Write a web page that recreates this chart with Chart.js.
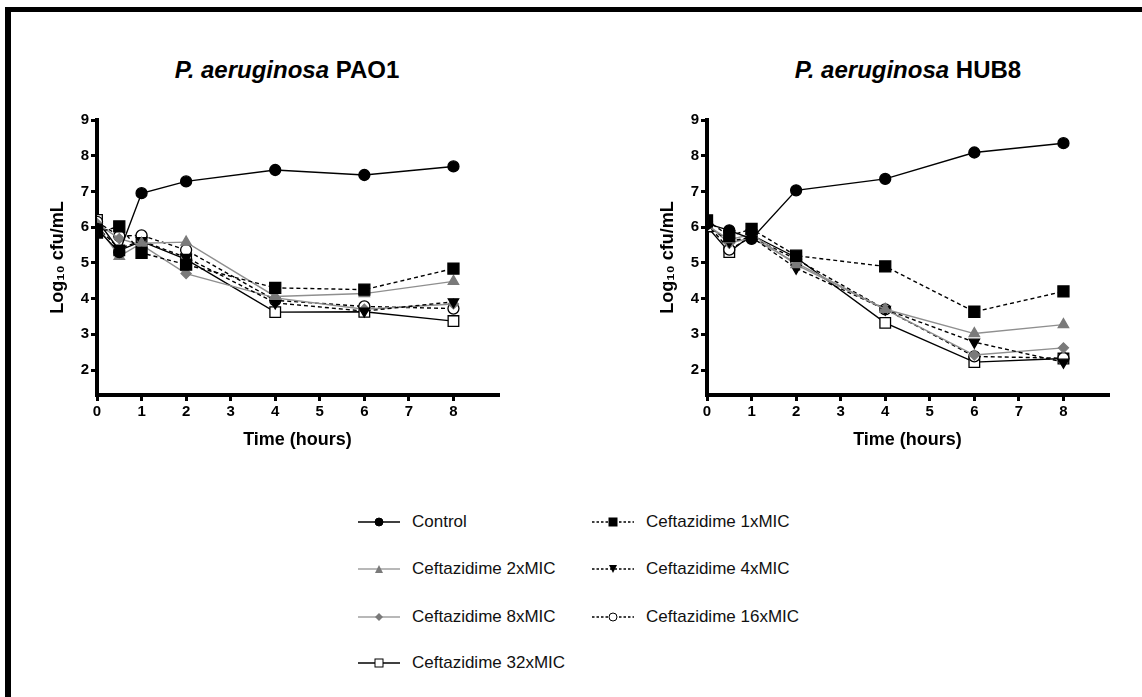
<!DOCTYPE html>
<html>
<head>
<meta charset="utf-8">
<script src="https://cdn.jsdelivr.net/npm/chart.js@4.4.1/dist/chart.umd.min.js"></script>
<style>
  body { margin: 0; background: #fff; font-family: 'Liberation Sans', Arial, sans-serif; }
  #page { position: relative; width: 1142px; height: 697px; overflow: hidden; background: #fff; }
  #frame { position: absolute; left: 5px; top: 7px; width: 1200px; height: 800px;
           border-top: 5px solid #000; border-left: 6px solid #000; }
  .title { position: absolute; top: 56px; font-weight: bold; font-size: 24px; line-height: 28px;
           white-space: nowrap; transform: translateX(-50%); color: #000; }
  .box { position: absolute; width: 500px; height: 370px; top: 100px; }
  .leg { position: absolute; display: flex; align-items: center; font-size: 17px; color: #111; white-space: nowrap; }
  .leg svg { margin-right: 12px; }
</style>
</head>
<body>
<div id="page">
  <div id="frame"></div>
  <div class="title" style="left:287px"><i>P. aeruginosa</i> PAO1</div>
  <div class="title" style="left:908px"><i>P. aeruginosa</i> HUB8</div>
  <div class="box" style="left:20px"><canvas id="c1" width="500" height="370"></canvas></div>
  <div class="box" style="left:630px"><canvas id="c2" width="500" height="370"></canvas></div>
  <div id="legend"></div>
</div>
<script>
// sampling times (hours)
const times = [0, 0.5, 1, 2, 4, 6, 8];
const seriesNames = ['Control', 'Ceftazidime 1xMIC', 'Ceftazidime 2xMIC', 'Ceftazidime 4xMIC',
                     'Ceftazidime 8xMIC', 'Ceftazidime 16xMIC', 'Ceftazidime 32xMIC'];
const xTicks = [0, 1, 2, 3, 4, 5, 6, 7, 8];
const yTicks = [2, 3, 4, 5, 6, 7, 8, 9];

// PAO1 (log10 cfu/mL)
const pao1Control = [5.95, 5.30, 6.95, 7.28, 7.60, 7.46, 7.70];
const pao1Mic1    = [5.85, 6.02, 5.28, 4.95, 4.30, 4.25, 4.84];
const pao1Mic2    = [6.05, 5.18, 5.55, 5.58, 4.06, 4.14, 4.48];
const pao1Mic4    = [6.00, 5.40, 5.62, 5.15, 3.88, 3.65, 3.91];
const pao1Mic8    = [6.10, 5.68, 5.50, 4.70, 4.02, 3.70, 3.85];
const pao1Mic16   = [6.15, 5.75, 5.77, 5.36, 3.95, 3.78, 3.72];
const pao1Mic32   = [6.20, 5.35, 5.60, 5.10, 3.62, 3.63, 3.37];

// HUB8 (log10 cfu/mL)
const hub8Control = [6.10, 5.91, 5.67, 7.03, 7.35, 8.09, 8.35];
const hub8Mic1    = [6.19, 5.75, 5.95, 5.20, 4.90, 3.63, 4.20];
const hub8Mic2    = [6.05, 5.65, 5.80, 4.95, 3.70, 3.02, 3.27];
const hub8Mic4    = [6.05, 5.60, 5.72, 4.85, 3.70, 2.78, 2.22];
const hub8Mic8    = [6.08, 5.55, 5.70, 5.00, 3.70, 2.42, 2.62];
const hub8Mic16   = [6.10, 5.37, 5.72, 5.10, 3.70, 2.38, 2.33];
const hub8Mic32   = [6.02, 5.30, 5.78, 5.15, 3.32, 2.22, 2.32];

const FONT = "'Liberation Sans', Arial, sans-serif";
const GRAY_LINE = '#8f8f8f';
const GRAY_PT = '#7a7a7a';

// look of each series (same order as seriesNames)
const looks = [
  { line: '#000', dash: [], ps: 'circle', r: 5.5, fill: '#000', edge: '#000', rot: 0 },
  { line: '#000', dash: [4, 3], ps: 'rect', r: 7.8, fill: '#000', edge: '#000', rot: 0 },
  { line: GRAY_LINE, dash: [], ps: 'triangle', r: 6, fill: GRAY_PT, edge: GRAY_PT, rot: 0 },
  { line: '#000', dash: [4, 3], ps: 'triangle', r: 6, fill: '#000', edge: '#000', rot: 180 },
  { line: GRAY_LINE, dash: [], ps: 'rectRot', r: 5, fill: GRAY_PT, edge: GRAY_PT, rot: 0 },
  { line: '#000', dash: [4, 3], ps: 'circle', r: 5.5, fill: '#fff', edge: '#000', rot: 0 },
  { line: '#000', dash: [], ps: 'rect', r: 7.5, fill: '#fff', edge: '#000', rot: 0 }
];

function pts(vals) {
  return vals.map((v, i) => ({ x: times[i], y: v }));
}

function makeChart(id, seriesList) {
  const datasets = seriesList.map((vals, i) => {
    const lk = looks[i];
    return {
      label: seriesNames[i],
      data: pts(vals),
      borderColor: lk.line,
      borderWidth: 1.4,
      borderDash: lk.dash,
      pointStyle: lk.ps,
      pointRadius: lk.r,
      pointRotation: lk.rot,
      pointBackgroundColor: lk.fill,
      pointBorderColor: lk.edge,
      pointBorderWidth: 1.3,
      tension: 0,
      fill: false
    };
  });

  const axisGrid = { display: true, drawOnChartArea: false, drawTicks: true, tickLength: 6, lineWidth: 3, color: '#000' };
  const axisBorder = { display: true, width: 4, color: '#000' };

  return new Chart(document.getElementById(id), {
    type: 'line',
    data: { datasets },
    options: {
      responsive: false,
      animation: false,
      events: [],
      layout: { padding: { left: 27, right: 22, top: 20, bottom: 16 } },
      plugins: { legend: { display: false }, tooltip: { enabled: false } },
      scales: {
        x: {
          type: 'linear', min: 0, max: 9,
          grid: axisGrid, border: axisBorder,
          afterBuildTicks: s => { s.ticks = xTicks.map(v => ({ value: v })); },
          afterFit: s => { s.height = 59; },
          ticks: { color: '#000', padding: 2, font: { family: FONT, size: 15, weight: 'bold' } },
          title: { display: true, text: 'Time (hours)', color: '#000', padding: { top: 0, bottom: 3 },
                   font: { family: FONT, size: 18, weight: 'bold' } }
        },
        y: {
          type: 'linear', min: 1.3, max: 9,
          grid: axisGrid, border: axisBorder,
          afterBuildTicks: s => { s.ticks = yTicks.map(v => ({ value: v })); },
          afterFit: s => { s.width = 50; },
          ticks: { color: '#000', padding: 2, font: { family: FONT, size: 15, weight: 'bold' } },
          title: { display: true, text: 'Log\u2081\u2080 cfu/mL', color: '#000', padding: { top: 0, bottom: 0 },
                   font: { family: FONT, size: 18, weight: 'bold' } }
        }
      }
    }
  });
}

makeChart('c1', [pao1Control, pao1Mic1, pao1Mic2, pao1Mic4, pao1Mic8, pao1Mic16, pao1Mic32]);
makeChart('c2', [hub8Control, hub8Mic1, hub8Mic2, hub8Mic4, hub8Mic8, hub8Mic16, hub8Mic32]);

// legend below both panels
const legendPos = [
  [358, 522], [592, 522],
  [358, 569], [592, 569],
  [358, 617], [592, 617],
  [358, 663]
];

function swatch(lk) {
  const dash = lk.dash.length ? ' stroke-dasharray="2.5,2"' : '';
  const lineCol = lk.line === GRAY_LINE ? '#a0a0a0' : '#000';
  let mark = '';
  const cx = 21, cy = 8;
  if (lk.ps === 'circle') {
    mark = `<circle cx="${cx}" cy="${cy}" r="4" fill="${lk.fill}" stroke="${lk.edge}" stroke-width="1"/>`;
  } else if (lk.ps === 'rect') {
    mark = `<rect x="${cx - 4}" y="${cy - 4}" width="8" height="8" fill="${lk.fill}" stroke="${lk.edge}" stroke-width="1"/>`;
  } else if (lk.ps === 'triangle' && lk.rot === 180) {
    mark = `<polygon points="${cx - 4},${cy - 4} ${cx + 4},${cy - 4} ${cx},${cy + 4}" fill="${lk.fill}"/>`;
  } else if (lk.ps === 'triangle') {
    mark = `<polygon points="${cx - 4},${cy + 4} ${cx + 4},${cy + 4} ${cx},${cy - 4}" fill="${lk.fill}"/>`;
  } else {
    mark = `<polygon points="${cx},${cy - 4} ${cx + 4},${cy} ${cx},${cy + 4} ${cx - 4},${cy}" fill="${lk.fill}"/>`;
  }
  return `<svg width="42" height="16"><line x1="0" y1="${cy}" x2="42" y2="${cy}" stroke="${lineCol}" stroke-width="1.3"${dash}/>${mark}</svg>`;
}

const legend = document.getElementById('legend');
seriesNames.forEach((name, i) => {
  const el = document.createElement('div');
  el.className = 'leg';
  el.style.left = legendPos[i][0] + 'px';
  el.style.top = (legendPos[i][1] - 10) + 'px';
  el.innerHTML = swatch(looks[i]) + '<span>' + name + '</span>';
  legend.appendChild(el);
});
</script>
</body>
</html>
